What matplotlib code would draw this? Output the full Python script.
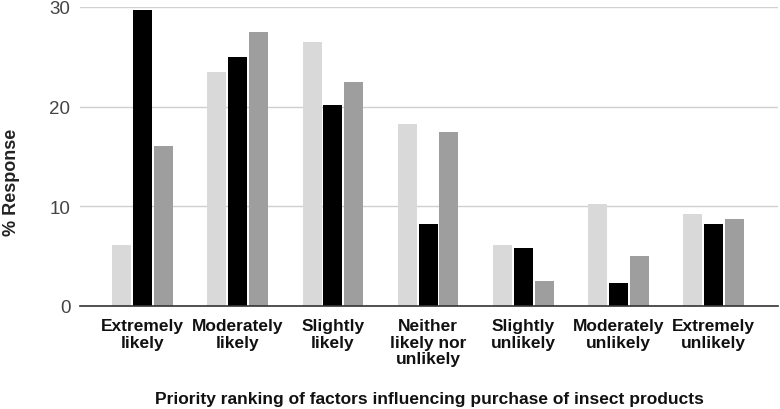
import matplotlib
matplotlib.use("Agg")
import matplotlib.pyplot as plt
import numpy as np

categories = ["Extremely\nlikely", "Moderately\nlikely", "Slightly\nlikely",
              "Neither\nlikely nor\nunlikely", "Slightly\nunlikely",
              "Moderately\nunlikely", "Extremely\nunlikely"]
series_light = [6.1, 23.5, 26.5, 18.3, 6.1, 10.2, 9.2]
series_black = [29.7, 25.0, 20.2, 8.2, 5.8, 2.3, 8.2]
series_gray = [16.1, 27.5, 22.5, 17.5, 2.5, 5.0, 8.7]
y_ticks = [0, 10, 20, 30]

plt.rcParams['font.family'] = ['Liberation Sans', 'DejaVu Sans']

fig = plt.figure(figsize=(7.8, 4.1), dpi=100)
ax = fig.add_axes([80/780, 103/410, 698/780, 299/410])

x = np.arange(len(categories))
w = 0.2
step = 0.22
colors = ["#d9d9d9", "#000000", "#9e9e9e"]
for i, (vals, c) in enumerate(zip([series_light, series_black, series_gray], colors)):
    ax.bar(x + (i - 1) * step, vals, width=w, color=c, zorder=3)

ax.set_xlim(-0.66, 6.68)
ax.set_ylim(0, 30)
ax.set_yticks(y_ticks)
ax.yaxis.grid(True, color="#d0d0d0", linewidth=1, zorder=0)
ax.set_axisbelow(True)
for s in ["left", "right", "top"]:
    ax.spines[s].set_visible(False)
ax.spines["bottom"].set_color("#333333")
ax.spines["bottom"].set_linewidth(1.2)
ax.spines["bottom"].set_zorder(4)
ax.tick_params(axis="y", length=0, labelsize=13.5, labelcolor="#444444", pad=7)
ax.tick_params(axis="x", length=0, pad=9)
ax.set_xticks(x)
ax.set_xticklabels(categories, fontsize=12.5, fontweight="bold", color="#111111",
                   linespacing=1.1)
ax.set_ylabel("% Response", fontsize=13, fontweight="bold", color="#222222")
ax.yaxis.set_label_coords(-0.086, 0.418)
ax.set_xlabel("Priority ranking of factors influencing purchase of insect products",
              fontsize=12.5, fontweight="bold", color="#111111", labelpad=18)

fig.savefig("out.png", dpi=100)
